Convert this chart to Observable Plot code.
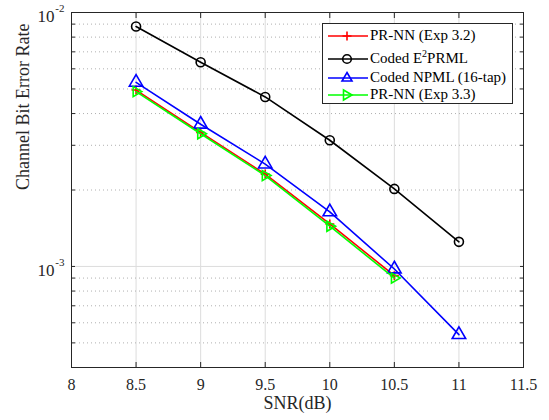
<!DOCTYPE html>
<html>
<head>
<meta charset="utf-8">
<script src="https://cdn.jsdelivr.net/npm/d3@7"></script>
<script src="https://cdn.jsdelivr.net/npm/@observablehq/plot@0.6"></script>
<style>
  body { margin: 0; background: white; }
  #wrap { position: relative; width: 549px; height: 420px; font-family: "Liberation Serif", "Times New Roman", serif; color: #262626; }
  #legend { position: absolute; left: 322px; top: 23px; width: 191px; height: 81px; box-sizing: border-box;
    border: 1px solid #262626; background: white; font-size: 15px; color: #000; }
  .row { position: absolute; left: 0; height: 16px; width: 100%; }
  .row svg { position: absolute; left: 4px; top: 0; }
  .row span { position: absolute; left: 47px; top: -1px; white-space: nowrap; line-height: 16px; }
  sup { font-size: 10px; vertical-align: 6px; line-height: 0; }
</style>
</head>
<body>
<div id="wrap"></div>
<script>
// ---- data ----
const snrAll = [8.5, 9, 9.5, 10, 10.5, 11];
const snrPR = [8.5, 9, 9.5, 10, 10.5];
const berPR32 = [4.95e-3, 3.37e-3, 2.31e-3, 1.47e-3, 9.2e-4];
const berE2PRML = [8.81e-3, 6.37e-3, 4.65e-3, 3.14e-3, 2.02e-3, 1.25e-3];
const berNPML = [5.31e-3, 3.63e-3, 2.53e-3, 1.64e-3, 9.77e-4, 5.39e-4];
const berPR33 = [4.88e-3, 3.33e-3, 2.28e-3, 1.44e-3, 9.0e-4];
const xTicks = [8, 8.5, 9, 9.5, 10, 10.5, 11, 11.5];
const yMajor = [1e-3, 1e-2];
const yMajorExp = ["-3", "-2"];
const yMinor = [4e-4, 5e-4, 6e-4, 7e-4, 8e-4, 9e-4, 2e-3, 3e-3, 4e-3, 5e-3, 6e-3, 7e-3, 8e-3, 9e-3];
const seriesNames = ["PR-NN (Exp 3.2)", "Coded E<sup>2</sup>PRML", "Coded NPML (16-tap)", "PR-NN (Exp 3.3)"];
const seriesColors = ["#ff0000", "#000000", "#0000ff", "#00ff00"];

// ---- custom symbols ----
const plusSym = { draw(ctx, size) { const r = Math.sqrt(size / Math.PI);
  ctx.moveTo(-r, 0); ctx.lineTo(r, 0); ctx.moveTo(0, -r); ctx.lineTo(0, r); } };
const triRight = { draw(ctx, size) { const s = Math.sqrt(size) * 0.6824, t = s / 2, u = s * Math.sqrt(3) / 2;
  ctx.moveTo(s, 0); ctx.lineTo(-t, -u); ctx.lineTo(-t, u); ctx.closePath(); } };

const sw = 1.6;
const chart = Plot.plot({
  width: 549, height: 420,
  marginLeft: 71, marginRight: 26, marginTop: 12, marginBottom: 53,
  x: { domain: [8, 11.5], label: null },
  y: { type: "log", domain: [4e-4, 1e-2], label: null },
  style: { fontFamily: "Liberation Serif, Times New Roman, serif", fontSize: "16px", color: "#262626", background: "white" },
  marks: [
    Plot.gridX(xTicks, { stroke: "#dcdcdc", strokeOpacity: 1 }),
    Plot.gridY(yMinor, { stroke: "#b0b0b0", strokeOpacity: 1, strokeDasharray: "1,3" }),
    Plot.gridY(yMajor, { stroke: "#dcdcdc", strokeOpacity: 1 }),
    // PR-NN Exp 3.2
    Plot.line(berPR32, { x: snrPR, y: berPR32, stroke: seriesColors[0], strokeWidth: sw }),
    Plot.dot(berPR32, { x: snrPR, y: berPR32, symbol: plusSym, r: 4.5, stroke: seriesColors[0], strokeWidth: sw, fill: "none" }),
    // Coded E2PRML
    Plot.line(berE2PRML, { x: snrAll, y: berE2PRML, stroke: seriesColors[1], strokeWidth: sw }),
    Plot.dot(berE2PRML, { x: snrAll, y: berE2PRML, symbol: "circle", r: 4.5, stroke: seriesColors[1], strokeWidth: sw, fill: "none" }),
    // Coded NPML
    Plot.line(berNPML, { x: snrAll, y: berNPML, stroke: seriesColors[2], strokeWidth: sw }),
    Plot.dot(berNPML, { x: snrAll, y: berNPML, symbol: "triangle", r: 5, stroke: seriesColors[2], strokeWidth: sw, fill: "none" }),
    // PR-NN Exp 3.3
    Plot.line(berPR33, { x: snrPR, y: berPR33, stroke: seriesColors[3], strokeWidth: sw }),
    Plot.dot(berPR33, { x: snrPR, y: berPR33, symbol: triRight, r: 4.8, stroke: seriesColors[3], strokeWidth: sw, fill: "none" }),
    Plot.frame({ stroke: "#262626" }),
    Plot.axisX(xTicks, { anchor: "bottom", tickSize: -5, tickFormat: () => "", stroke: "#262626" }),
    Plot.axisX(xTicks, { anchor: "top", tickSize: -5, tickFormat: () => "", stroke: "#262626" }),
    Plot.axisX(xTicks, { anchor: "bottom", tickSize: 0, tickPadding: 11, tickFormat: d => String(d), fontSize: 16, fill: "#262626" }),
    Plot.axisY(yMajor.concat(yMinor), { anchor: "left", tickSize: -4, tickFormat: () => "", stroke: "#262626" }),
    Plot.axisY(yMajor.concat(yMinor), { anchor: "right", tickSize: -4, tickFormat: () => "", stroke: "#262626" }),
    Plot.text(yMajor, { y: d => d, text: () => "10", frameAnchor: "left", dx: -17, dy: 4, textAnchor: "end", fontSize: 17, fill: "#262626" }),
    Plot.text(yMajor, { y: d => d, text: (d, i) => yMajorExp[i], frameAnchor: "left", dx: -7, dy: -4, textAnchor: "end", fontSize: 11, fill: "#262626" }),
    Plot.text(["SNR(dB)"], { text: d => d, frameAnchor: "bottom", dy: 41, fontSize: 18, fill: "#262626" }),
    Plot.text(["Channel Bit Error Rate"], { text: d => d, frameAnchor: "left", dx: -48, rotate: -90, fontSize: 18, fill: "#262626" })
  ]
});
const wrap = document.getElementById("wrap");
wrap.appendChild(chart);

// ---- legend ----
const legend = document.createElement("div");
legend.id = "legend";
const rowTops = [4, 27, 46, 63];
const markerSvg = [
  `<path d="M20,3.5V12.5M15.5,8H24.5" stroke="#ff0000" stroke-width="${sw}" fill="none"/>`,
  `<circle cx="20" cy="8" r="4.3" stroke="#000" stroke-width="${sw}" fill="none"/>`,
  `<path d="M20,2.5L25,11L15,11Z" stroke="#0000ff" stroke-width="${sw}" fill="none"/>`,
  `<path d="M25,8L16.5,3L16.5,13Z" stroke="#00ff00" stroke-width="${sw}" fill="none"/>`
];
seriesNames.forEach((name, i) => {
  const row = document.createElement("div");
  row.className = "row";
  row.style.top = rowTops[i] + "px";
  row.innerHTML = `<svg width="42" height="16"><line x1="1" x2="41" y1="8" y2="8" stroke="${seriesColors[i]}" stroke-width="${sw}"/>${markerSvg[i]}</svg><span>${name}</span>`;
  legend.appendChild(row);
});
wrap.appendChild(legend);
</script>
</body>
</html>
